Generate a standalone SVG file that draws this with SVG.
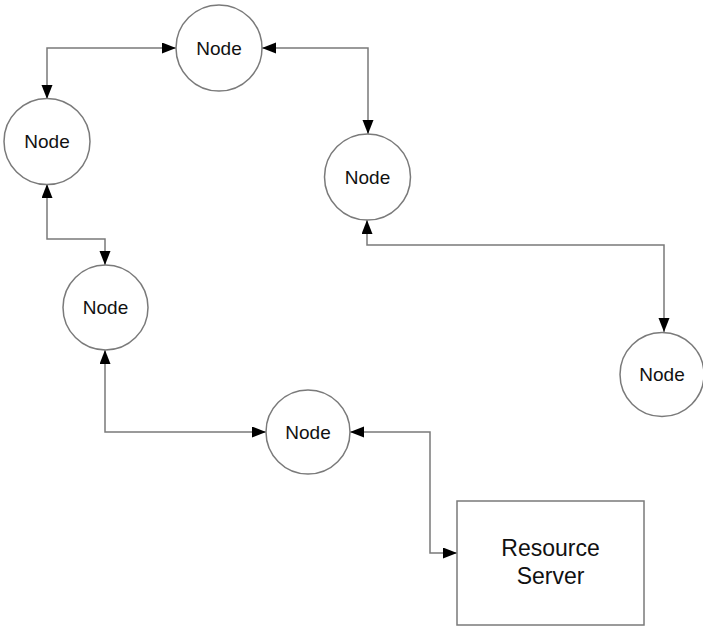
<svg xmlns="http://www.w3.org/2000/svg" width="703" height="626" viewBox="0 0 703 626">
<style>
.n{fill:#fff;stroke:#7a7a7a;stroke-width:1.5}
.t{font-family:"Liberation Sans",Arial,sans-serif;font-size:19px;fill:#111;text-anchor:middle}
.rt{font-family:"Liberation Sans",Arial,sans-serif;font-size:23px;fill:#111;text-anchor:middle}
.c{fill:none;stroke:#7a7a7a;stroke-width:1.5;marker-start:url(#ah);marker-end:url(#ah)}
</style>
<defs>
<marker id="ah" markerUnits="userSpaceOnUse" markerWidth="15" markerHeight="12" refX="14" refY="5.5" orient="auto-start-reverse">
<path d="M0,0 L14,5.5 L0,11 z" fill="#000"/>
</marker>
</defs>
<rect width="703" height="626" fill="#fff"/>
<g id="connectors">
<path class="c" d="M47,99 V48 H176"/>
<path class="c" d="M262,48 H368 V134"/>
<path class="c" d="M47,184 V239 H105 V265"/>
<path class="c" d="M105,350 V432 H266"/>
<path class="c" d="M367,220 V245 H664 V332"/>
<path class="c" d="M350,432 H430 V553 H457"/>
</g>
<g id="node1"><circle class="n" cx="219" cy="48" r="43"/><text class="t" x="219" y="55">Node</text></g>
<g id="node2"><circle class="n" cx="47" cy="141.5" r="43"/><text class="t" x="47" y="148">Node</text></g>
<g id="node3"><circle class="n" cx="105.5" cy="307.5" r="42.5"/><text class="t" x="105.5" y="314">Node</text></g>
<g id="node4"><circle class="n" cx="308" cy="432" r="42"/><text class="t" x="308" y="439">Node</text></g>
<g id="node5"><circle class="n" cx="367.5" cy="177" r="43"/><text class="t" x="367.5" y="184">Node</text></g>
<g id="node6"><circle class="n" cx="662" cy="374.5" r="42"/><text class="t" x="662" y="381">Node</text></g>
<g id="server"><rect class="n" x="457" y="501" width="187" height="124"/><text class="rt" x="550.5" y="556">Resource</text><text class="rt" x="550.5" y="584">Server</text></g>
</svg>
